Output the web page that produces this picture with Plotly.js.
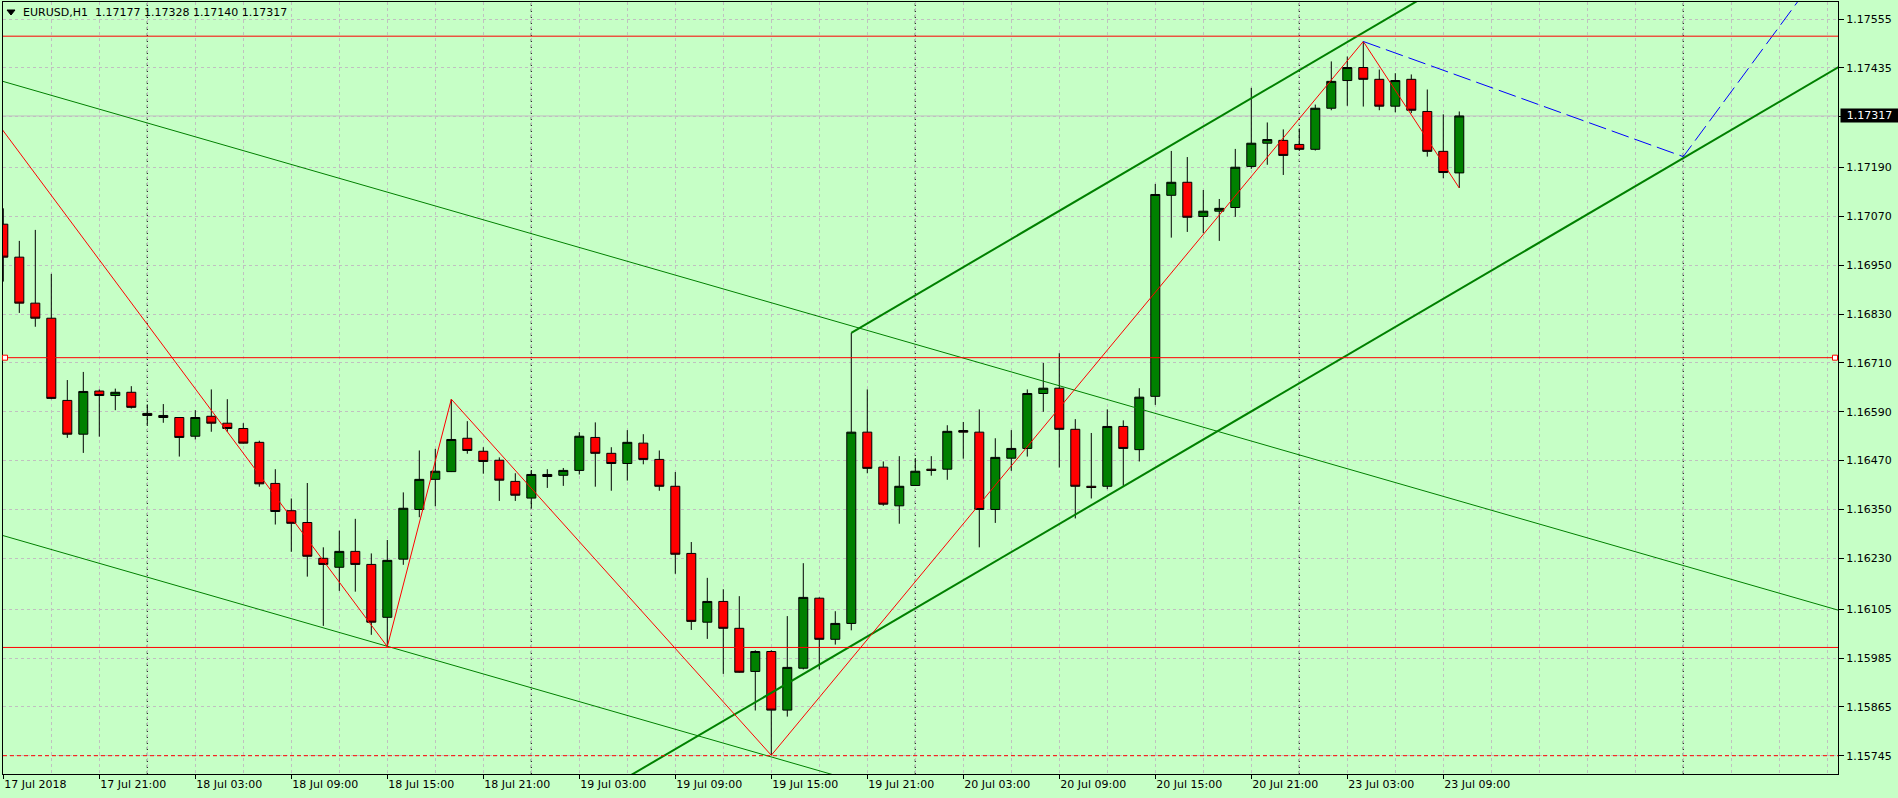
<!DOCTYPE html>
<html>
<head>
<meta charset="utf-8">
<script src="https://cdn.plot.ly/plotly-3.0.1.min.js"></script>
<style>html,body{margin:0;padding:0;background:#C6FFC6;}#chart{width:1898px;height:798px;}</style>
</head>
<body>
<div id="chart"></div>
<script>
// ---- EURUSD H1 bars (bar 0 = 17 Jul 2018 15:00, hourly, weekend skipped) ----
const opens = [1.17051,1.16970,1.16857,1.16820,1.16618,1.16535,1.16641,1.16630,1.16638,1.16586,
1.16581,1.16576,1.16530,1.16579,1.16562,1.16549,1.16515,1.16414,1.16347,1.16318,
1.16230,1.16208,1.16247,1.16215,1.16085,1.16228,1.16350,1.16424,1.16443,1.16525,
1.16493,1.16471,1.16419,1.16378,1.16436,1.16434,1.16446,1.16527,1.16488,1.16463,
1.16513,1.16473,1.16407,1.16242,1.16073,1.16124,1.16058,1.15952,1.16001,1.15857,
1.15960,1.16132,1.16031,1.16070,1.16540,1.16454,1.16359,1.16409,1.16449,1.16449,
1.16544,1.16540,1.16350,1.16476,1.16500,1.16635,1.16648,1.16547,1.16407,1.16407,
1.16554,1.16497,1.16628,1.17122,1.17154,1.17070,1.17083,1.17092,1.17193,1.17250,
1.17257,1.17247,1.17235,1.17336,1.17404,1.17436,1.17407,1.17341,1.17407,1.17328,
1.17230,1.17177];
const highs = [1.17090,1.17010,1.17037,1.16929,1.16668,1.16688,1.16645,1.16647,1.16653,1.16608,
1.16609,1.16577,1.16594,1.16645,1.16621,1.16562,1.16519,1.16449,1.16377,1.16415,
1.16257,1.16298,1.16327,1.16242,1.16275,1.16392,1.16495,1.16499,1.16621,1.16567,
1.16503,1.16478,1.16439,1.16447,1.16449,1.16452,1.16540,1.16564,1.16503,1.16545,
1.16535,1.16495,1.16442,1.16270,1.16182,1.16154,1.16137,1.16004,1.16004,1.16088,
1.16218,1.16134,1.16100,1.16784,1.16645,1.16468,1.16481,1.16476,1.16481,1.16557,
1.16565,1.16596,1.16525,1.16545,1.16645,1.16710,1.16734,1.16572,1.16538,1.16596,
1.16569,1.16648,1.17150,1.17231,1.17216,1.17135,1.17113,1.17236,1.17386,1.17301,
1.17284,1.17286,1.17345,1.17451,1.17463,1.17500,1.17431,1.17422,1.17419,1.17382,
1.17321,1.17328];
const lows = [1.16910,1.16833,1.16799,1.16621,1.16526,1.16489,1.16529,1.16594,1.16598,1.16558,
1.16563,1.16480,1.16522,1.16541,1.16541,1.16512,1.16406,1.16313,1.16246,1.16185,
1.16064,1.16150,1.16148,1.16042,1.16013,1.16214,1.16331,1.16358,1.16442,1.16487,
1.16438,1.16371,1.16371,1.16352,1.16403,1.16408,1.16436,1.16406,1.16396,1.16421,
1.16461,1.16396,1.16192,1.16054,1.16032,1.15946,1.15949,1.15856,1.15746,1.15841,
1.15957,1.15957,1.16018,1.16053,1.16439,1.16359,1.16315,1.16408,1.16433,1.16423,
1.16475,1.16257,1.16317,1.16445,1.16480,1.16590,1.16453,1.16328,1.16377,1.16400,
1.16408,1.16468,1.16607,1.17018,1.17032,1.17029,1.17010,1.17069,1.17187,1.17197,
1.17172,1.17231,1.17232,1.17331,1.17342,1.17340,1.17331,1.17326,1.17324,1.17217,
1.17164,1.17140];
const closes = [1.16970,1.16857,1.16820,1.16623,1.16535,1.16640,1.16630,1.16638,1.16601,1.16581,
1.16576,1.16527,1.16576,1.16562,1.16549,1.16513,1.16413,1.16345,1.16316,1.16235,
1.16215,1.16247,1.16215,1.16073,1.16225,1.16353,1.16424,1.16444,1.16522,1.16495,
1.16468,1.16422,1.16385,1.16436,1.16431,1.16446,1.16530,1.16488,1.16463,1.16515,
1.16473,1.16407,1.16240,1.16075,1.16124,1.16058,1.15950,1.16001,1.15857,1.15962,
1.16134,1.16031,1.16070,1.16540,1.16451,1.16363,1.16407,1.16444,1.16446,1.16542,
1.16540,1.16350,1.16478,1.16500,1.16635,1.16648,1.16547,1.16407,1.16404,1.16554,
1.16500,1.16626,1.17124,1.17154,1.17068,1.17083,1.17090,1.17191,1.17250,1.17259,
1.17220,1.17235,1.17336,1.17402,1.17436,1.17407,1.17341,1.17404,1.17331,1.17230,
1.17178,1.17317];

// ---- time axis labels (bar index of each label) ----
const xTickBars = [0,6,12,18,24,30,36,42,48,54,60,66,72,78,84,90];
const xTickLabels = ['17 Jul 2018','17 Jul 21:00','18 Jul 03:00','18 Jul 09:00','18 Jul 15:00',
  '18 Jul 21:00','19 Jul 03:00','19 Jul 09:00','19 Jul 15:00','19 Jul 21:00','20 Jul 03:00',
  '20 Jul 09:00','20 Jul 15:00','20 Jul 21:00','23 Jul 03:00','23 Jul 09:00'];
const daySeparatorBars = [9,33,57,81,105];

// ---- price axis labels ----
const yTickVals = [1.17555,1.17435,1.17315,1.17190,1.17070,1.16950,1.16830,1.16710,1.16590,
  1.16470,1.16350,1.16230,1.16105,1.15985,1.15865,1.15745];
const yTickLabels = ['1.17555','1.17435','','1.17190','1.17070','1.16950','1.16830','1.16710',
  '1.16590','1.16470','1.16350','1.16230','1.16105','1.15985','1.15865','1.15745'];

// ---- drawn objects (bar index, price) ----
const zigzagBars   = [-1, 24, 28, 48, 85, 91];
const zigzagPrices = [1.17333, 1.16013, 1.16621, 1.15746, 1.17500, 1.17140];
const projBars   = [85, 105, 113];
const projPrices = [1.17500, 1.17217, 1.17643];
const thinUpperBars = [-1, 115], thinUpperPrices = [1.17413, 1.16099];
const thinLowerBars = [-1, 115], thinLowerPrices = [1.16297, 1.14983];
const chanLowerBars = [39, 115], chanLowerPrices = [1.15692, 1.17444];
const chanUpperBars = [53, 89],  chanUpperPrices = [1.16784, 1.17614];
const redLevels = [1.17513, 1.16723, 1.16011];
const dashedLevel = 1.15745;
const selectedLevel = 1.16723;

const symbolName = 'EURUSD,H1';

// ---------------------------------------------------------------
const FONT = 'DejaVu Sans, sans-serif';
const W = 1898, H = 798, ML = 3, MR = 60, MT = 2, MB = 24;
const PW = W - ML - MR, PH = H - MT - MB;
const px2paperX = p => (p - ML) / PW;
const px2paperY = p => 1 - (p - MT) / PH;

const bars = opens.map((_, i) => i);
const last = closes.length - 1;

const traces = [
  {
    type: 'candlestick', x: bars, open: opens, high: highs, low: lows, close: closes,
    increasing: {fillcolor: '#008000', line: {color: '#000000', width: 1}},
    decreasing: {fillcolor: '#FF0000', line: {color: '#000000', width: 1}},
    whiskerwidth: 0, hoverinfo: 'skip', showlegend: false
  },
  {type: 'scatter', mode: 'lines', x: thinUpperBars, y: thinUpperPrices, line: {color: '#008000', width: 1}, hoverinfo: 'skip'},
  {type: 'scatter', mode: 'lines', x: thinLowerBars, y: thinLowerPrices, line: {color: '#008000', width: 1}, hoverinfo: 'skip'},
  {type: 'scatter', mode: 'lines', x: chanLowerBars, y: chanLowerPrices, line: {color: '#008000', width: 2}, hoverinfo: 'skip'},
  {type: 'scatter', mode: 'lines', x: chanUpperBars, y: chanUpperPrices, line: {color: '#008000', width: 2}, hoverinfo: 'skip'},
  {type: 'scatter', mode: 'lines', x: zigzagBars, y: zigzagPrices, line: {color: '#FF0000', width: 1}, hoverinfo: 'skip'},
  {type: 'scatter', mode: 'lines', x: projBars, y: projPrices, line: {color: '#0000FF', width: 1, dash: '18px,6px'}, hoverinfo: 'skip'}
];

const shapes = [];
daySeparatorBars.forEach(b => shapes.push({
  type: 'line', xref: 'x', yref: 'paper', x0: b, x1: b, y0: 0, y1: 1,
  line: {color: '#000000', width: 1, dash: '3px,3px'}, layer: 'between'
}));
shapes.push({type: 'line', xref: 'paper', yref: 'y', x0: 0, x1: 1, y0: closes[last], y1: closes[last],
  line: {color: '#C0C0C0', width: 1}, layer: 'between'});
redLevels.forEach(v => shapes.push({type: 'line', xref: 'paper', yref: 'y', x0: 0, x1: 1, y0: v, y1: v,
  line: {color: '#FF0000', width: 1}, layer: 'above'}));
shapes.push({type: 'line', xref: 'paper', yref: 'y', x0: 0, x1: 1, y0: dashedLevel, y1: dashedLevel,
  line: {color: '#FF0000', width: 1, dash: '4px,3px'}, layer: 'above'});
[5, 1835].forEach(p => shapes.push({type: 'rect', xref: 'paper', yref: 'y',
  xsizemode: 'pixel', ysizemode: 'pixel', xanchor: px2paperX(p), yanchor: selectedLevel,
  x0: -2.5, x1: 2.5, y0: -2.5, y1: 2.5,
  line: {color: '#FF0000', width: 1}, fillcolor: '#FFFFFF', layer: 'above'}));
// symbol drop-down triangle
shapes.push({type: 'path', xref: 'paper', yref: 'paper', xsizemode: 'pixel', ysizemode: 'pixel',
  xanchor: px2paperX(7), yanchor: px2paperY(10), path: 'M0,0 L8,0 L4,-5 Z',
  fillcolor: '#000000', line: {color: '#000000', width: 1}, layer: 'above'});

const annotations = [
  {xref: 'paper', yref: 'paper', x: px2paperX(21), y: px2paperY(12.5), xanchor: 'left', yanchor: 'middle',
   text: symbolName + '\u00A0\u00A0' + [opens[last], highs[last], lows[last], closes[last]].map(v => v.toFixed(5)).join(' '),
   showarrow: false, font: {family: FONT, size: 11, color: '#000000'}},
  {xref: 'paper', yref: 'y', x: px2paperX(1840), y: closes[last], xanchor: 'left', yanchor: 'middle',
   text: closes[last].toFixed(5), showarrow: false, bgcolor: '#000000', borderpad: 0,
   width: 57, height: 13, align: 'center', font: {family: FONT, size: 11, color: '#FFFFFF'}}
];

const gridCol = '#C0C0C0';
const layout = {
  width: W, height: H,
  margin: {l: ML, r: MR, t: MT, b: MB, pad: 0},
  paper_bgcolor: '#C6FFC6', plot_bgcolor: '#C6FFC6',
  showlegend: false, hovermode: false,
  boxgap: 0.4375, boxgroupgap: 0,
  font: {family: FONT, size: 11, color: '#000000'},
  xaxis: {
    type: 'linear', range: [-0.019, 114.67], fixedrange: true, automargin: false,
    tickmode: 'array', tickvals: xTickBars, ticktext: xTickLabels,
    ticks: 'outside', ticklen: 4, tickwidth: 1, tickcolor: '#000000',
    ticklabelposition: 'outside right',
    tickfont: {family: FONT, size: 11, color: '#000000'},
    showline: true, linecolor: '#000000', linewidth: 1, mirror: true,
    showgrid: true, gridcolor: gridCol, gridwidth: 1, griddash: '3px,3px',
    minor: {tick0: 0, dtick: 3, showgrid: true, gridcolor: gridCol, gridwidth: 1, griddash: '3px,3px', ticks: ''},
    zeroline: false, rangeslider: {visible: false}
  },
  yaxis: {
    type: 'linear', side: 'right', range: [1.15700, 1.17597], fixedrange: true, automargin: false,
    tickmode: 'array', tickvals: yTickVals, ticktext: yTickLabels,
    ticks: 'outside', ticklen: 5, tickwidth: 1, tickcolor: '#000000',
    tickfont: {family: FONT, size: 11, color: '#000000'},
    showline: true, linecolor: '#000000', linewidth: 1, mirror: true,
    showgrid: true, gridcolor: gridCol, gridwidth: 1, griddash: '3px,3px',
    zeroline: false
  },
  shapes: shapes,
  annotations: annotations
};

Plotly.newPlot('chart', traces, layout, {displayModeBar: false, staticPlot: true});
</script>
</body>
</html>
